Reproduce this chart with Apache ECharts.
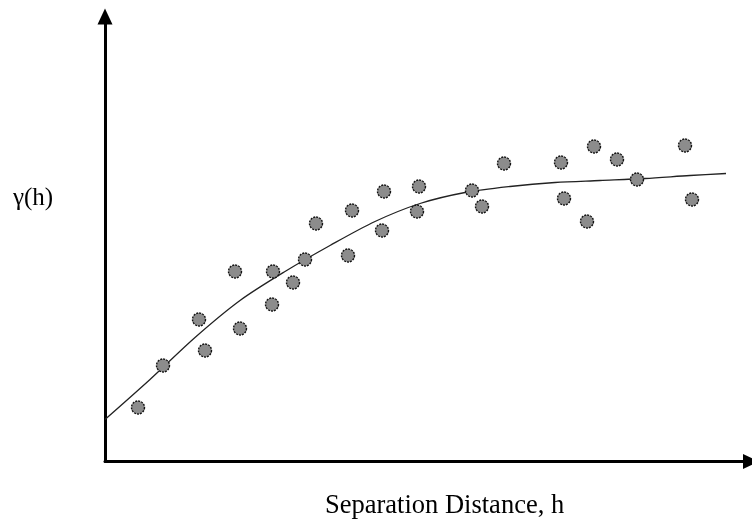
<!DOCTYPE html>
<html>
<head>
<meta charset="utf-8">
<script src="https://cdn.jsdelivr.net/npm/echarts@6/dist/echarts.min.js"></script>
<style>
  html, body { margin: 0; padding: 0; background: #fff; }
  #chart { width: 752px; height: 521px; }
</style>
</head>
<body>
<div id="chart"></div>
<script>
// separation distance of each sample pair (axis units, arbitrary)
const sampleH = [33, 58, 94, 100, 130, 135, 167, 168, 188, 200, 211, 243, 247, 277,
  279, 312, 314, 367, 377, 399, 456, 459, 482, 489, 512, 532, 580, 587]
// experimental semivariance of each pair
const sampleGamma = [54, 96, 142, 111, 190, 133, 157, 190, 179, 202, 238, 206, 251, 231,
  270, 250, 275, 271, 255, 298, 299, 263, 240, 315, 302, 282, 316, 262]

// fitted model
const modelH = [0, 45, 90, 135, 180, 225, 270, 315, 360, 405, 450, 495, 540, 585, 621]
const modelGamma = [42, 82, 124, 161, 190, 216, 240, 258, 269, 275, 279, 281, 283, 286, 288]

const xLabel = 'Separation Distance, h'
const yLabel = 'γ(h)'

const chart = echarts.init(document.getElementById('chart'))

const axisStyle = {
  show: true,
  symbol: ['none', 'triangle'],
  symbolSize: [15, 16],
  lineStyle: { color: '#000', width: 3 }
}

chart.setOption({
  animation: false,
  backgroundColor: '#fff',
  grid: { left: 105, right: 1, top: 16.5, bottom: 59.5 },
  xAxis: {
    type: 'value',
    min: 0,
    max: 646,
    axisLine: axisStyle,
    axisTick: { show: false },
    axisLabel: { show: false },
    splitLine: { show: false }
  },
  yAxis: {
    type: 'value',
    min: 0,
    max: 445,
    axisLine: axisStyle,
    axisTick: { show: false },
    axisLabel: { show: false },
    splitLine: { show: false }
  },
  graphic: [
    {
      type: 'text',
      left: 13,
      top: 186,
      style: { text: yLabel, font: '25px "Liberation Serif"', fill: '#000' }
    },
    {
      type: 'text',
      left: 325,
      top: 493,
      style: { text: xLabel, font: '26.5px "Liberation Serif"', fill: '#000' }
    }
  ],
  series: [
    {
      type: 'line',
      data: modelH.map((h, i) => [h, modelGamma[i]]),
      smooth: 0.3,
      showSymbol: false,
      lineStyle: { color: '#222', width: 1.3 },
      z: 2
    },
    {
      type: 'scatter',
      data: sampleH.map((h, i) => [h, sampleGamma[i]]),
      symbolSize: 13,
      itemStyle: {
        color: '#8c8c8c',
        borderColor: '#111',
        borderWidth: 1.4,
        borderType: [2, 1],
        opacity: 1
      },
      z: 3
    }
  ]
})
</script>
</body>
</html>
